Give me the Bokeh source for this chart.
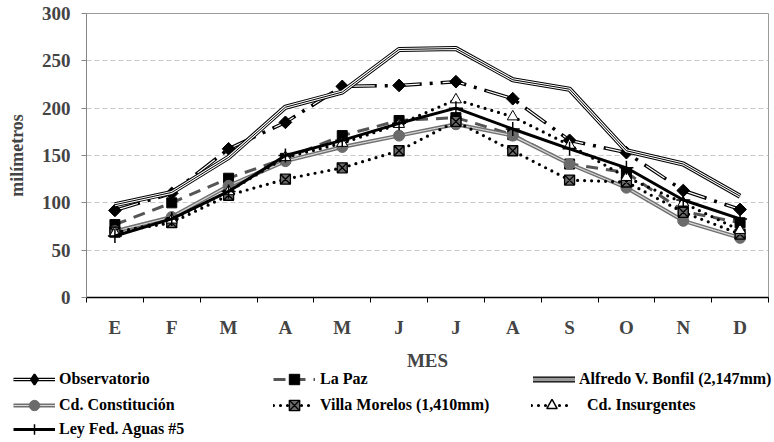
import math
from bokeh.plotting import figure
from bokeh.models import (ColumnDataSource, FixedTicker, Legend, LegendItem, Label)
from bokeh.embed import file_html
from bokeh.resources import INLINE

meses = ["E", "F", "M", "A", "M", "J", "J", "A", "S", "O", "N", "D"]
y_ticks = [0, 50, 100, 150, 200, 250, 300]

observatorio = [92, 110, 157, 185, 223, 224, 228, 210, 166, 153, 113, 93]
la_paz = [77, 100, 126, 147, 171, 187, 190, 172, 141, 132, 91, 79]
bonfil = [98, 111, 148, 201, 217, 262, 263, 230, 220, 155, 141, 107]
constitucion = [70, 85, 118, 144, 159, 171, 183, 171, 141, 116, 81, 63]
villa_morelos = [69, 79, 108, 125, 137, 155, 186, 155, 124, 122, 90, 67]
insurgentes = [68, 82, 112, 148, 163, 183, 209, 191, 161, 127, 100, 71]
ley_fed = [65, 83, 112, 150, 166, 184, 200, 178, 157, 137, 103, 83]

labels = {
    "obs": "Observatorio",
    "paz": "La Paz",
    "bon": "Alfredo V. Bonfil (2,147mm)",
    "con": "Cd. Constitución",
    "vil": "Villa Morelos (1,410mm)",
    "ins": "Cd. Insurgentes",
    "ley": "Ley Fed. Aguas #5",
}
x_title = "MES"
y_title = "milímetros"

FONT = "Liberation Serif"
n = len(meses)
xs = [i + 0.5 for i in range(n)]
src = ColumnDataSource(dict(x=xs, obs=observatorio, paz=la_paz, bon=bonfil,
                            con=constitucion, vil=villa_morelos,
                            ins=insurgentes, ley=ley_fed))

STY = {
    "obs": [("line", dict(line_color="black", line_width=3.5, line_dash="26 8 3 8")),
            ("line", dict(line_color="white", line_width=1.2, line_dash="22 23",
                          line_dash_offset=43)),
            ("scatter", dict(marker="square", angle=math.pi / 4, size=9,
                             fill_color="black", line_color="black"))],
    "paz": [("line", dict(line_color="#555555", line_width=3, line_dash="12 8")),
            ("scatter", dict(marker="square", size=10, fill_color="black",
                             line_color="black"))],
    "bon": [("line", dict(line_color="black", line_width=5)),
            ("line", dict(line_color="white", line_width=3)),
            ("line", dict(line_color="black", line_width=1))],
    "con": [("line", dict(line_color="#707070", line_width=4)),
            ("line", dict(line_color="#d8d8d8", line_width=1.2)),
            ("scatter", dict(marker="circle", size=11, fill_color="#6b6b6b",
                             line_color="#6b6b6b"))],
    "vil": [("line", dict(line_color="black", line_width=3.2, line_dash="0 7",
                          line_cap="round")),
            ("scatter", dict(marker="square_x", size=10, fill_color="#6a6a6a",
                             line_color="black", line_width=1.3))],
    "ins": [("line", dict(line_color="black", line_width=3.2, line_dash="0 7",
                          line_cap="round")),
            ("scatter", dict(marker="triangle", size=11, fill_color="white",
                             line_color="black", line_width=1))],
    "ley": [("line", dict(line_color="black", line_width=3)),
            ("scatter", dict(marker="cross", size=14, line_color="black",
                             line_width=1.5))],
}
LEG_STY = dict(STY)
LEG_STY["obs"] = [("line", dict(line_color="black", line_width=3.5)),
                  ("line", dict(line_color="white", line_width=1)),
                  ("scatter", dict(marker="diamond", size=10,
                                   fill_color="black", line_color="black",
                                   line_width=2))]
LEG_STY["bon"] = [("line", dict(line_color="black", line_width=6, line_cap="round")),
                  ("line", dict(line_color="#9a9a9a", line_width=3.5, line_cap="round"))]
LEG_STY["ins"] = [("line", dict(line_color="black", line_width=3.2, line_dash="0 7",
                                line_cap="round")),
                  ("scatter", dict(marker="triangle", size=10, fill_color="white",
                                   line_color=None)),
                  ("scatter", dict(marker="triangle", size=10, fill_color=None,
                                   line_color="black", line_width=1.5))]
ORDER = ["obs", "paz", "bon", "con", "vil", "ins", "ley"]

p = figure(width=774, height=340, x_range=(0, n), y_range=(0, 300),
           output_backend="svg", toolbar_location=None,
           min_border_left=86, min_border_right=6, min_border_top=13,
           min_border_bottom=43)
p.background_fill_color = "white"
p.border_fill_color = "white"
p.outline_line_color = "#9a9a9a"

xa = p.xaxis[0]
xa.ticker = FixedTicker(ticks=xs, minor_ticks=list(range(n + 1)))
xa.major_label_overrides = {x: m for x, m in zip(xs, meses)}
xa.major_tick_line_color = None
xa.major_tick_out = 0
xa.major_tick_in = 0
xa.minor_tick_line_color = "black"
xa.minor_tick_out = 5
xa.minor_tick_in = 0
xa.axis_line_color = "black"
xa.axis_line_width = 1.5
xa.major_label_text_font = FONT
xa.major_label_text_font_style = "bold"
xa.major_label_text_font_size = "19px"
xa.major_label_standoff = 14

ya = p.yaxis[0]
ya.ticker = FixedTicker(ticks=y_ticks)
ya.minor_tick_line_color = None
ya.major_tick_line_color = "#868686"
ya.major_tick_out = 5
ya.major_tick_in = 0
ya.axis_line_color = "#868686"
ya.major_label_text_font = FONT
ya.major_label_text_font_style = "bold"
ya.major_label_text_font_size = "19px"
ya.major_label_standoff = 11
ya.axis_label = y_title
ya.axis_label_text_font = FONT
ya.axis_label_text_font_style = "bold"
ya.axis_label_text_font_size = "18px"
ya.axis_label_standoff = 12

p.xgrid.visible = False
p.ygrid.ticker = FixedTicker(ticks=y_ticks[1:-1])
p.ygrid.grid_line_color = "#c8c8c8"
p.ygrid.grid_line_dash = "5 3"
p.ygrid.grid_line_width = 1

for key in ORDER:
    for kind, kw in STY[key]:
        getattr(p, kind)("x", key, source=src, **kw)

# legend panel (separate root so its frame spans the full width)
q = figure(width=774, height=102, x_range=(0, 774), y_range=(0, 102),
           output_backend="svg", toolbar_location=None,
           x_axis_location=None, y_axis_location=None,
           min_border_left=0, min_border_right=0, min_border_top=0,
           min_border_bottom=0)
q.outline_line_color = None
q.xgrid.visible = False
q.ygrid.visible = False
q.background_fill_color = "white"
q.border_fill_color = "white"

q.add_layout(Label(x=427, y=82, text=x_title, text_align="center",
                   text_baseline="middle", text_font=FONT,
                   text_font_style="bold", text_font_size="19px"))

dummy = ColumnDataSource(dict(x=[-100, -90], **{k: [-100, -90] for k in ORDER}))
leg_r = {}
for key in ORDER:
    leg_r[key] = [getattr(q, kind)("x", key, source=dummy, **kw)
                  for kind, kw in LEG_STY[key]]


def add_legend(key, vx, vy, gw, standoff):
    lg = Legend(items=[LegendItem(label=labels[key], renderers=leg_r[key])],
                location=(vx, vy), padding=0, margin=0, spacing=0,
                glyph_width=gw, glyph_height=26, label_height=26,
                label_standoff=standoff, border_line_color=None,
                background_fill_alpha=0, label_text_font=FONT,
                label_text_font_style="bold", label_text_font_size="16px",
                label_text_color="black")
    q.add_layout(lg, "center")


row1, row2, row3 = 50, 24, 0
add_legend("obs", 13, row1, 42, 4)
add_legend("paz", 273, row1, 42, 5)
add_legend("bon", 533, row1, 42, 4)
add_legend("con", 13, row2, 42, 4)
add_legend("vil", 273, row2, 42, 5)
add_legend("ins", 531, row2, 41, 15)
add_legend("ley", 13, row3, 42, 4)

open("out.html", "w").write(file_html([p, q], INLINE))
